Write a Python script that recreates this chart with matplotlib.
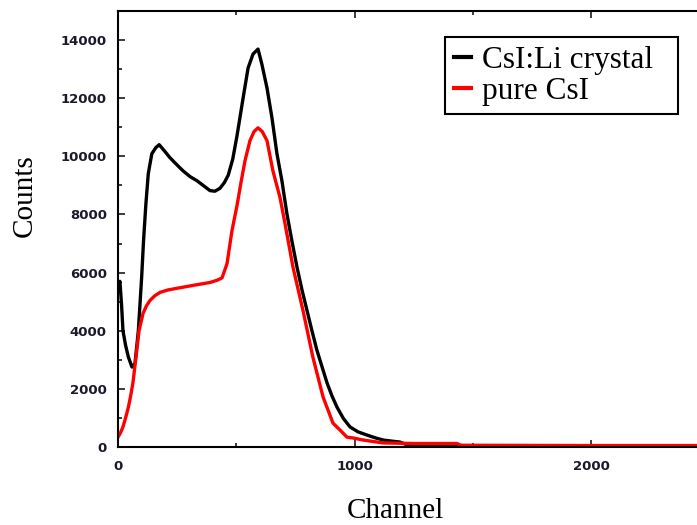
import matplotlib
matplotlib.use("Agg")
import matplotlib.pyplot as plt
from matplotlib.ticker import MultipleLocator

# ---- data ----
csili_channel = [0, 8, 15, 21, 32, 44, 59, 72, 86, 100, 108, 118, 128, 143, 160, 174, 195,
                 220, 250, 275, 305, 334, 360, 389, 410, 431, 450, 466, 485, 503, 529, 550,
                 571, 592, 608, 630, 651, 672, 693, 714, 735, 757, 778, 799, 820, 841, 863,
                 884, 905, 926, 953, 981, 1015, 1053, 1090, 1121, 1160, 1192, 1220, 1300,
                 1600, 2450]
csili_counts = [5400, 5700, 4900, 4000, 3500, 3090, 2750, 2880, 4000, 5840, 7100, 8370, 9400,
                10090, 10300, 10400, 10200, 9950, 9700, 9500, 9300, 9160, 9000, 8820, 8800,
                8900, 9100, 9350, 9900, 10700, 12010, 13040, 13520, 13690, 13180, 12350,
                11320, 10090, 9160, 8030, 7100, 6180, 5400, 4700, 4000, 3330, 2750, 2200,
                1750, 1370, 980, 690, 520, 410, 310, 240, 200, 170, 80, 30, 15, 10]

pure_channel = [0, 10, 21, 32, 44, 54, 63, 76, 89, 106, 120, 135, 155, 178, 210, 249, 290,
                317, 360, 389, 420, 440, 461, 482, 503, 520, 537, 558, 575, 592, 610, 630,
                655, 685, 706, 740, 782, 824, 867, 909, 939, 968, 994, 1036, 1121, 1250,
                1433, 1450, 2000, 2450]
pure_counts = [340, 480, 690, 1000, 1370, 1780, 2200, 3090, 4000, 4600, 4850, 5040, 5200,
               5320, 5400, 5460, 5520, 5560, 5620, 5660, 5740, 5820, 6310, 7450, 8300, 9100,
               9850, 10540, 10850, 10980, 10850, 10540, 9500, 8580, 7690, 6180, 4700, 3090,
               1720, 820, 580, 340, 310, 240, 140, 120, 120, 60, 50, 50]

labels = ["CsI:Li crystal", "pure CsI"]

# ---- figure ----
fig = plt.figure(figsize=(6.97, 5.25), dpi=100)
ax = fig.add_axes([118 / 697, 78 / 525, 579 / 697, 436 / 525])

ax.plot(csili_channel, csili_counts, color="black", lw=2.4, label=labels[0] + "  ")
ax.plot(pure_channel, pure_counts, color="red", lw=2.4, label=labels[1])

ax.set_xlim(0, 2448)
ax.set_ylim(0, 15000)
ax.xaxis.set_major_locator(MultipleLocator(1000))
ax.xaxis.set_minor_locator(MultipleLocator(500))
ax.yaxis.set_major_locator(MultipleLocator(2000))
ax.yaxis.set_minor_locator(MultipleLocator(1000))
ax.tick_params(which="both", direction="in", top=True, right=False, width=1.2,
               labelsize=9.5, colors="#1a1a2a")
ax.tick_params(which="major", length=5)
ax.tick_params(which="minor", length=3)
ax.tick_params(axis="x", pad=9)
ax.tick_params(axis="y", pad=8)
for lab in ax.get_xticklabels() + ax.get_yticklabels():
    lab.set_fontweight("semibold")

for s in ["left", "bottom", "top"]:
    ax.spines[s].set_linewidth(1.5)
ax.spines["right"].set_visible(False)

ax.set_xlabel("Channel", family="Liberation Serif", fontsize=21, va="baseline")
ax.xaxis.set_label_coords((395 - 118) / 579, -71 / 436)
ax.set_ylabel("Counts", family="Liberation Serif", fontsize=21, va="center")
ax.yaxis.set_label_coords((25 - 118) / 579, (447 - 196) / 436)

leg = ax.legend(loc="upper left", bbox_to_anchor=(445 / 697, 1 - 37 / 525),
                bbox_transform=fig.transFigure, borderaxespad=0, fancybox=False,
                edgecolor="black", framealpha=1, prop={"family": "Liberation Serif", "size": 22.5},
                handlelength=0.55, handletextpad=0.35, labelspacing=0.06, borderpad=0.28)
leg.get_frame().set_linewidth(1.5)
for line in leg.get_lines():
    line.set_linewidth(3)

fig.savefig("out.png", dpi=100)
